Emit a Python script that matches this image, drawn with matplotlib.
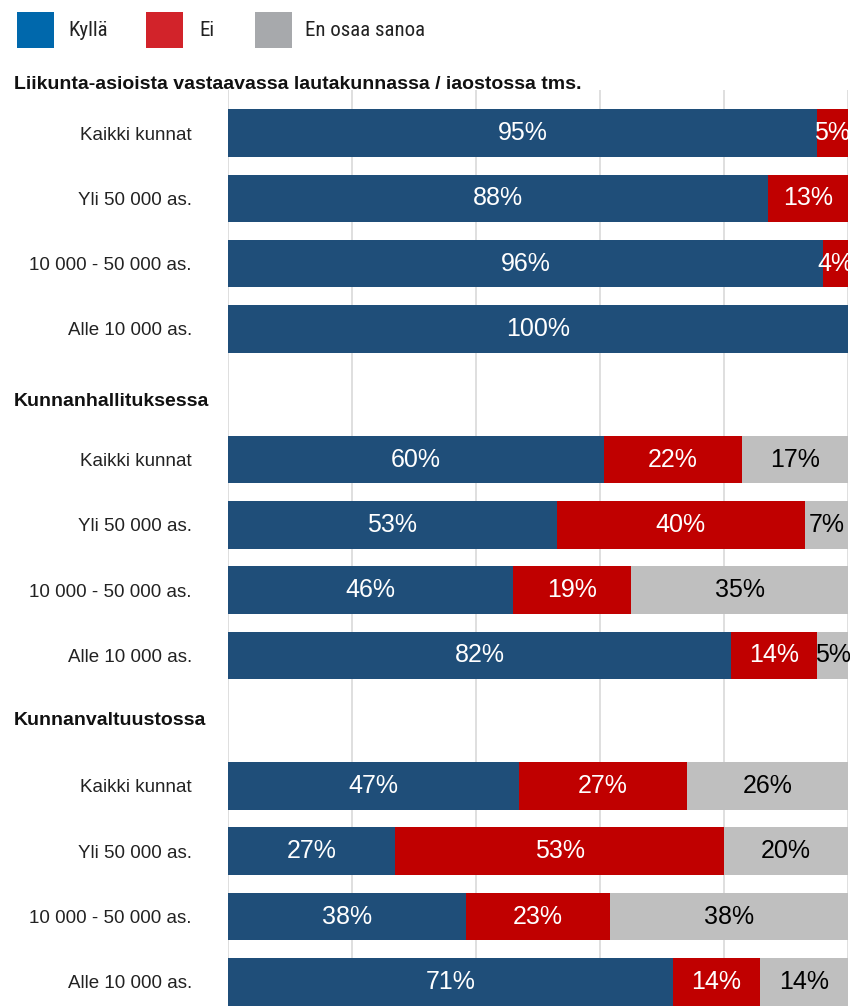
import matplotlib.pyplot as plt
import matplotlib.transforms as mtransforms
import matplotlib.font_manager as fm
from matplotlib.patches import Rectangle
import numpy as np

# data
sections = ["Liikunta-asioista vastaavassa lautakunnassa / iaostossa tms.",
            "Kunnanhallituksessa",
            "Kunnanvaltuustossa"]
categories = ["Kaikki kunnat", "Yli 50 000 as.", "10 000 - 50 000 as.", "Alle 10 000 as."]
series_names = ["Kyllä", "Ei", "En osaa sanoa"]
kylla = [95, 88, 96, 100, 60, 53, 46, 82, 47, 27, 38, 71]
ei = [5, 13, 4, 0, 22, 40, 19, 14, 27, 53, 23, 14]
eos = [0, 0, 0, 0, 17, 7, 35, 5, 26, 20, 38, 14]

bar_colors = ["#1F4E79", "#C00000", "#BFBFBF"]
legend_colors = ["#0068AC", "#D2232A", "#A7A9AC"]
text_colors = ["white", "white", "black"]

# look for a condensed face for the legend / category labels
fonts = fm.fontManager.ttflist
names = {f.name for f in fonts}
cond = dict(family="Liberation Sans")
legend_size = 12.5
for n in ["Liberation Sans Narrow", "Roboto Condensed", "Open Sans Condensed"]:
    if n in names:
        cond = dict(family=n)
        legend_size = 15
        break
else:
    if any(f.name == "DejaVu Sans" and f.stretch == "condensed" for f in fonts):
        cond = dict(family="DejaVu Sans", fontstretch="condensed")
        legend_size = 14

W, H = 850, 1006
fig = plt.figure(figsize=(W / 100, H / 100), dpi=100)

# axes placed in pixel terms of the reference
ax = fig.add_axes([228 / W, 0, 620 / W, 916 / H])

# slot layout: 4 bars per section, one empty slot for each header in between
ypos = [0, 1, 2, 3, 5, 6, 7, 8, 10, 11, 12, 13]
header_y = [-0.75, 4.11, 9.0]

series = np.array([kylla, ei, eos], dtype=float)
# rounded percentages do not always sum to 100, bars are scaled to full width
shares = series / series.sum(axis=0) * 100

left = np.zeros(len(ypos))
for vals, shr, col, tcol in zip(series, shares, bar_colors, text_colors):
    ax.barh(ypos, shr, left=left, height=0.73, color=col, zorder=3)
    for y, l, v, s in zip(ypos, left, vals, shr):
        if v <= 0:
            continue
        ax.text(l + s / 2, y, f"{int(v)}%", ha="center", va="center",
                color=tcol, fontsize=18, family="Liberation Sans", zorder=4)
    left = left + shr

ax.set_xlim(0, 100)
ax.set_ylim(13.37, -0.66)
ax.set_xticks([0, 20, 40, 60, 80, 100])
ax.xaxis.grid(True, color="#D9D9D9", linewidth=1.2, zorder=0)
ax.set_axisbelow(True)
ax.tick_params(axis="x", length=0, labelbottom=False)
ax.set_yticks(ypos)
ax.set_yticklabels(categories * 3, fontsize=13.5, family="Liberation Sans", color="#222222")
ax.tick_params(axis="y", length=0, pad=26)
for s in ax.spines.values():
    s.set_visible(False)

# section headers
trans = mtransforms.blended_transform_factory(fig.transFigure, ax.transData)
for hy, name in zip(header_y, sections):
    ax.text(14 / W, hy, name, transform=trans, ha="left", va="center",
            fontsize=14, fontweight="bold", family="Liberation Sans", color="#111111",
            clip_on=False)

# legend at top
box_x = [17, 146, 255]
text_x = [68, 199, 305]
for bx, tx, col, name in zip(box_x, text_x, legend_colors, series_names):
    fig.add_artist(Rectangle((bx / W, 1 - 48 / H), 37 / W, 36 / H,
                             transform=fig.transFigure, color=col, lw=0))
    fig.text(tx / W, 1 - 31 / H, name, ha="left", va="center", fontsize=legend_size,
             color="#222222", **cond)

fig.savefig("out.png", dpi=100)
